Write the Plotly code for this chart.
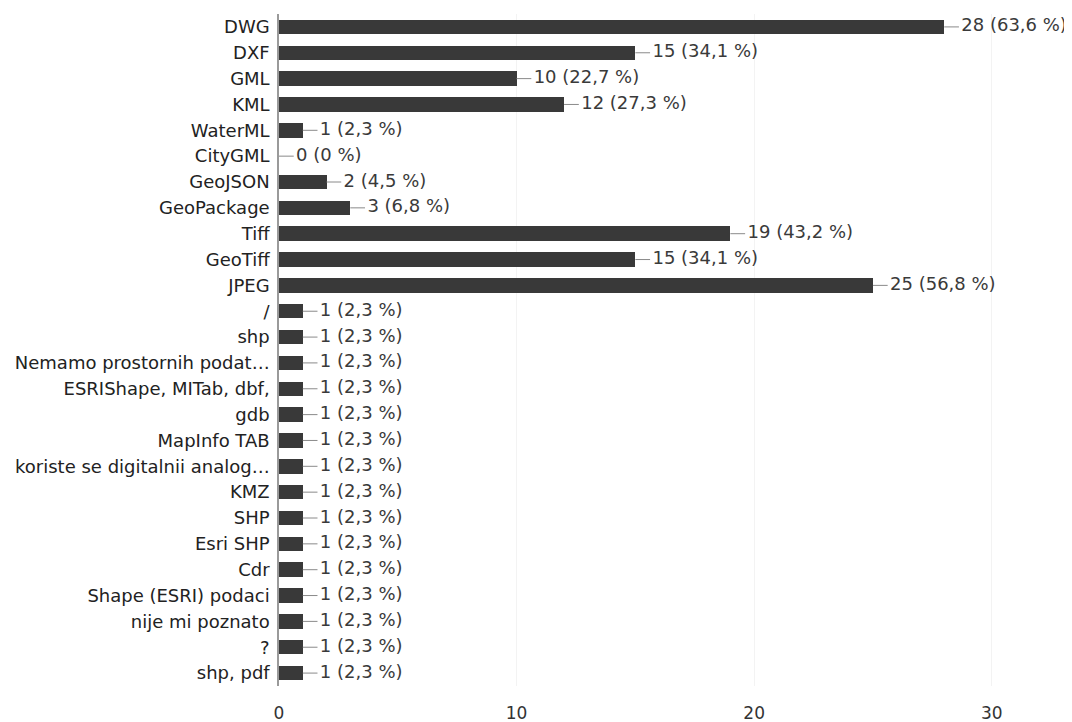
import plotly.graph_objects as go

categories = ["DWG", "DXF", "GML", "KML", "WaterML", "CityGML", "GeoJSON", "GeoPackage",
              "Tiff", "GeoTiff", "JPEG", "/", "shp", "Nemamo prostornih podat…",
              "ESRIShape, MITab, dbf,", "gdb", "MapInfo TAB", "koriste se digitalnii analog…",
              "KMZ", "SHP", "Esri SHP", "Cdr", "Shape (ESRI) podaci", "nije mi poznato",
              "?", "shp, pdf"]
counts = [28, 15, 10, 12, 1, 0, 2, 3, 19, 15, 25, 1, 1, 1, 1, 1, 1, 1, 1, 1, 1, 1, 1, 1, 1, 1]
percents = ["63,6", "34,1", "22,7", "27,3", "2,3", "0", "4,5", "6,8", "43,2", "34,1", "56,8",
            "2,3", "2,3", "2,3", "2,3", "2,3", "2,3", "2,3", "2,3", "2,3", "2,3", "2,3", "2,3",
            "2,3", "2,3", "2,3"]
x_ticks = [0, 10, 20, 30]

FONT = "DejaVu Sans"
LEADER = 0.62
GAP = 0.72

labels = [f"{c} ({p} %)" for c, p in zip(counts, percents)]

lx, ly = [], []
for c, cat in zip(counts, categories):
    lx += [c, c + LEADER, None]
    ly += [cat, cat, None]

fig = go.Figure()
fig.add_trace(go.Bar(
    x=counts, y=categories, orientation="h",
    marker=dict(color="#393939", line=dict(width=0)),
    width=0.56, hoverinfo="skip",
))
fig.add_trace(go.Scatter(
    x=lx, y=ly, mode="lines",
    line=dict(color="#8a8a8a", width=1), hoverinfo="skip",
))
fig.add_trace(go.Scatter(
    x=[c + GAP for c in counts], y=categories, mode="text",
    text=labels, textposition="middle right",
    textfont=dict(family=FONT, size=18, color="#3a3a3a"),
    hoverinfo="skip", cliponaxis=False,
))

# page body has an 8px default margin, so the figure is sized to fit the 1072x722 window
fig.update_layout(
    width=1064, height=714,
    margin=dict(l=271, r=9, t=6, b=36),
    paper_bgcolor="white", plot_bgcolor="white",
    showlegend=False,
    bargap=0,
    font=dict(family=FONT, size=18, color="#2a2a2a"),
)
fig.update_xaxes(
    range=[0, 33], tickvals=x_ticks, ticktext=[str(t) for t in x_ticks],
    showgrid=True, gridcolor="#f3f3f3", zeroline=False, showline=False,
    ticks="", ticklabelstandoff=15, automargin=False,
    tickfont=dict(family=FONT, size=17, color="#333333"),
)
fig.update_yaxes(
    type="category", categoryorder="array", categoryarray=categories,
    range=[len(categories) - 0.5, -0.5], automargin=False,
    showline=True, linecolor="#9a9a9a", linewidth=1.5,
    showgrid=False, ticks="", ticklabelstandoff=4,
    tickfont=dict(family=FONT, size=18, color="#222222"),
)

fig.write_html("out.html")
